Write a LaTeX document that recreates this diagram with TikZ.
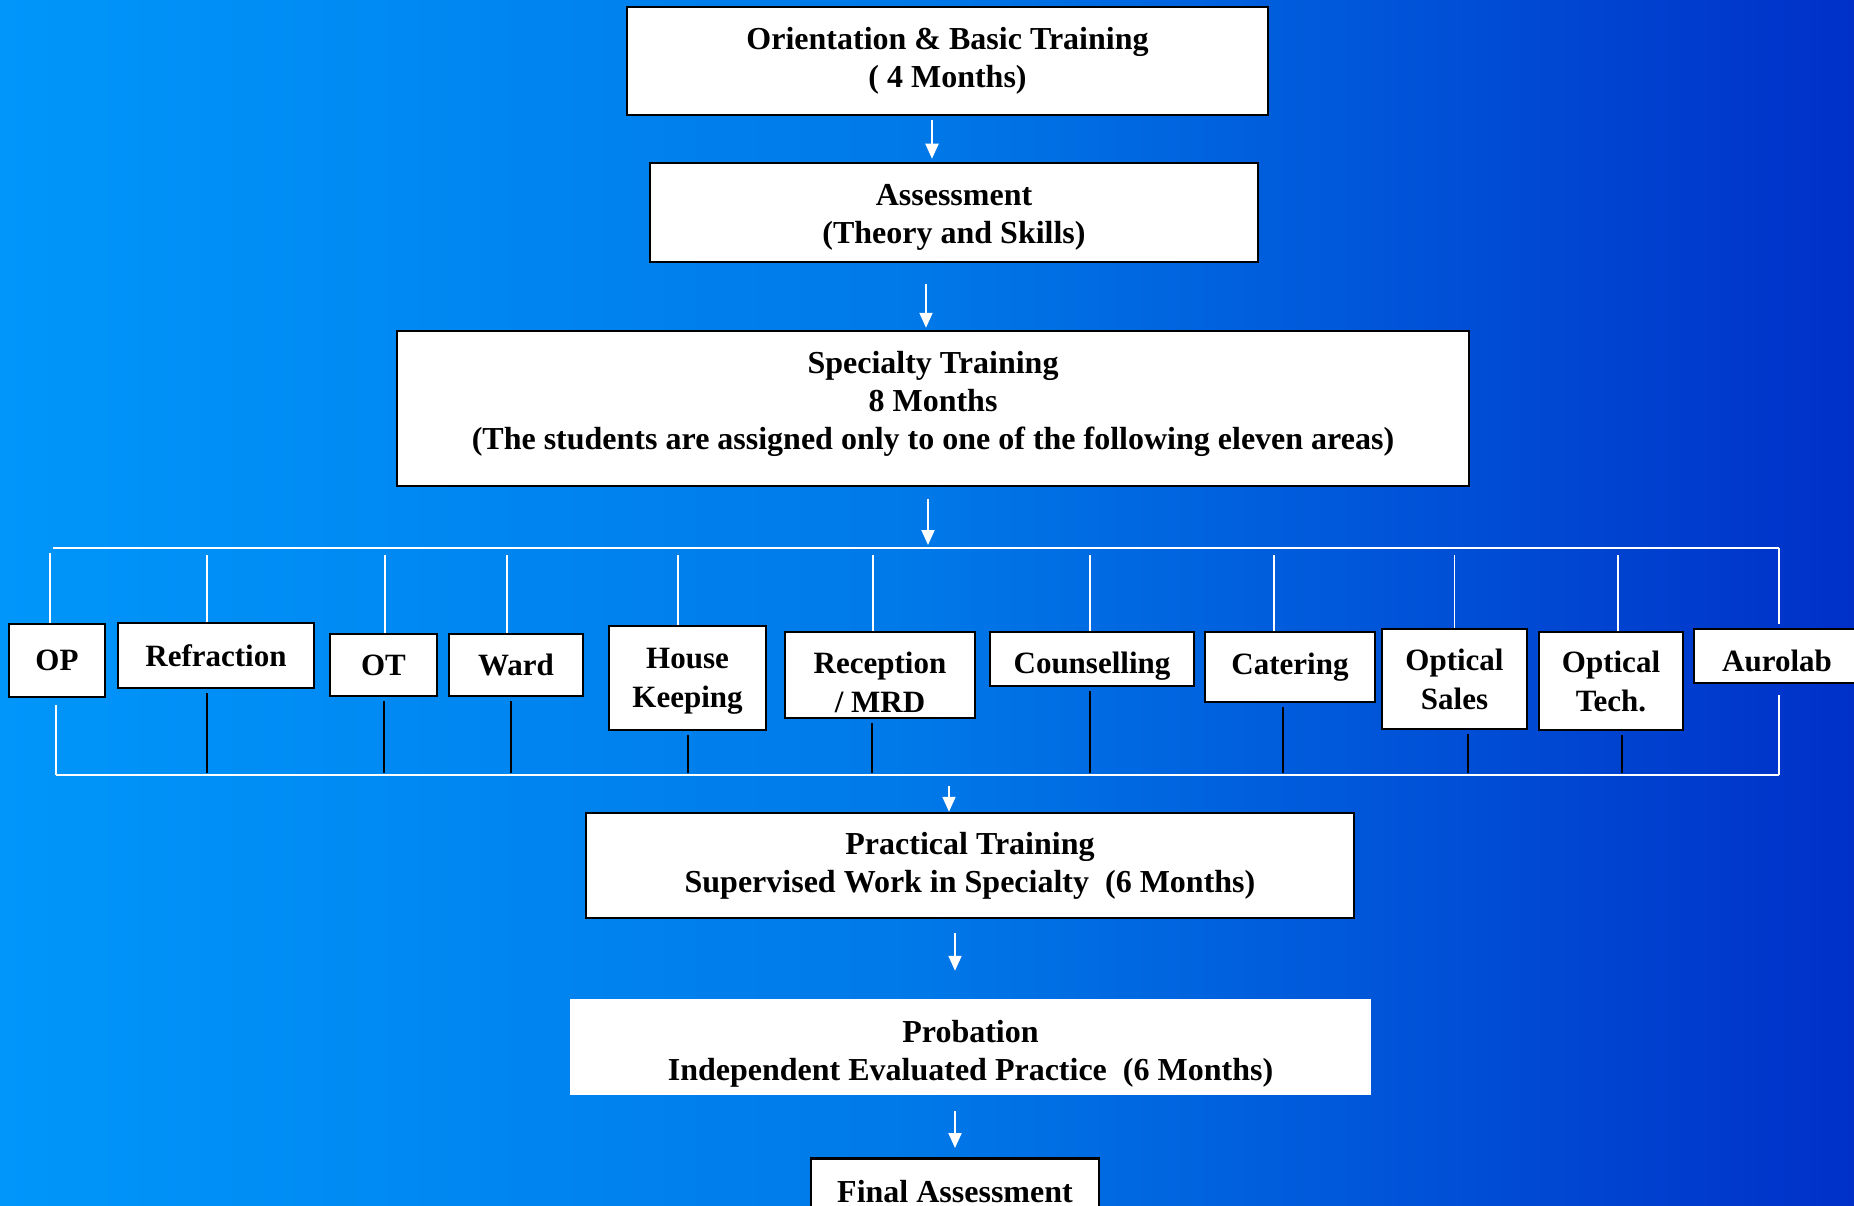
\documentclass[tikz,border=0pt]{standalone}
\usepackage{fontspec}
\setmainfont{Liberation Serif}
\usetikzlibrary{arrows.meta}
\definecolor{bgleft}{RGB}{0,150,250}
\definecolor{bgmid}{RGB}{0,120,232}
\definecolor{bgright}{RGB}{0,48,200}
\tikzset{
  stagebox/.style={draw=black, line width=2.5pt, fill=white, align=center, inner sep=0pt,
    font=\fontsize{32}{38}\selectfont\bfseries},
  areabox/.style={stagebox, font=\fontsize{31}{39}\selectfont\bfseries},
  flow/.style={white, line width=2pt, -{Triangle[width=13pt,length=15pt]}},
  bus/.style={white, line width=2.5pt},
  drop/.style={white, line width=1.5pt},
  tail/.style={black, line width=2pt},
}
\begin{document}
\begin{tikzpicture}[x=1pt,y=-1pt]
\shade[left color=bgleft, right color=bgright, middle color=bgmid] (0,0) rectangle (1854,1206);
\useasboundingbox (0,0) rectangle (1854,1206);

% main stages
\node[stagebox, minimum width=641pt, minimum height=108pt] (orient) at (947.5,61) {Orientation \& Basic Training\\( 4 Months)};
\node[stagebox, minimum width=608pt, minimum height=99pt] (assess) at (954,212.5) {\rule{0pt}{31pt}Assessment\\(Theory and Skills)};
\node[stagebox, minimum width=1072pt, minimum height=155pt] (special) at (933,408.5) {Specialty Training\\8 Months\\(The students are assigned only to one of the following eleven areas)\rule[-17pt]{0pt}{17pt}};
\node[stagebox, minimum width=768pt, minimum height=105pt] (practical) at (970,865.5) {Practical Training\\Supervised Work in Specialty~~(6 Months)};
\node[stagebox, draw=none, minimum width=801pt, minimum height=96pt] (probation) at (970.5,1047) {\rule{0pt}{36pt}Probation\\Independent Evaluated Practice~~(6 Months)};
\node[stagebox, anchor=north, minimum width=288pt, minimum height=66pt] (final) at (955,1157) {Final Assessment};

% eleven areas
\node[areabox, minimum width=96pt, minimum height=73pt] (op) at (57,660.5) {OP};
\node[areabox, minimum width=196pt, minimum height=65pt] (refr) at (216,655.5) {Refraction};
\node[areabox, minimum width=107pt, minimum height=62pt] (ot) at (383.5,665) {OT};
\node[areabox, minimum width=134pt, minimum height=62pt] (ward) at (516,665) {Ward};
\node[areabox, minimum width=157pt, minimum height=104pt] (house) at (687.5,678) {\rule{0pt}{26pt}House\\Keeping};
\node[areabox, minimum width=190pt, minimum height=86pt] (recep) at (880,675) {\rule{0pt}{36pt}Reception\\/ MRD};
\node[areabox, minimum width=204pt, minimum height=54pt] (couns) at (1092,659) {\rule{0pt}{36pt}Counselling};
\node[areabox, minimum width=170pt, minimum height=70pt] (cater) at (1290,667) {Catering};
\node[areabox, minimum width=145pt, minimum height=100pt] (osales) at (1454.5,679) {Optical\\Sales};
\node[areabox, minimum width=144pt, minimum height=98pt] (otech) at (1611,681) {Optical\\Tech.};
\node[areabox, minimum width=166pt, minimum height=54pt] (aurolab) at (1777,656) {\rule{0pt}{32pt}Aurolab};

% bus lines
\coordinate (tl) at (53,548);
\coordinate (tr) at (1779,548);
\coordinate (bl) at (56,775);
\coordinate (br) at (1779,775);
\draw[bus] (tl) -- (tr);
\draw[bus] (bl) -- (br);

% drops and tails
\foreach \n/\dt/\db in {refr/-9/-9, ot/1.5/0, ward/-9/-5, house/-9.5/0, recep/-7/-8,
    couns/-2/-2, cater/-16/-7, osales/0/13.5, otech/7/11} {
  \draw[drop, shorten <=7pt] ([xshift=\dt pt]\n.north |- tl) -- ([xshift=\dt pt]\n.north);
  \draw[tail, shorten <=4pt, shorten >=2pt] ([xshift=\db pt]\n.south) -- ([xshift=\db pt]\n.south |- bl);
}
\draw[drop, shorten <=5pt] ([xshift=-7pt]op.north |- tl) -- ([xshift=-7pt]op.north);
\draw[drop, shorten <=7pt] (op.south -| bl) -- (bl);
\draw[drop, shorten >=4pt] (tr) -- (tr |- aurolab.north);
\draw[drop, shorten <=11pt] (br |- aurolab.south) -- (br);

% arrows
\coordinate (a1) at (932,0);
\coordinate (a2) at (926,0);
\coordinate (a3) at (928,0);
\coordinate (a4) at (949,0);
\coordinate (a5) at (955,0);
\draw[flow, shorten <=4pt, shorten >=3pt] (a1 |- orient.south) -- (a1 |- assess.north);
\draw[flow, shorten <=21pt, shorten >=2pt] (a2 |- assess.south) -- (a2 |- special.north);
\draw[flow, shorten <=12pt, shorten >=3pt] (a3 |- special.south) -- (a3 |- tl);
\draw[flow, shorten <=11pt] (a4 |- bl) -- (a4 |- practical.north);
\draw[flow, shorten <=14pt, shorten >=27pt] (a5 |- practical.south) -- (a5 |- probation.north);
\draw[flow, shorten <=15pt, shorten >=9pt] (a5 |- probation.south) -- (a5 |- final.north);
\end{tikzpicture}
\end{document}
